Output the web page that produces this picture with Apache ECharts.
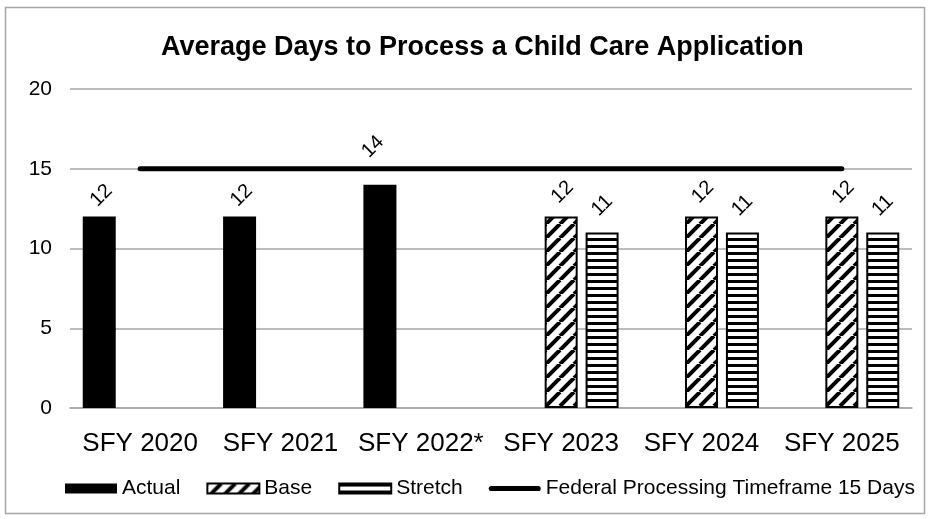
<!DOCTYPE html>
<html>
<head>
<meta charset="utf-8">
<script src="https://cdn.jsdelivr.net/npm/echarts@6/dist/echarts.min.js"></script>
<style>
  html, body { margin: 0; padding: 0; background: #fff; }
  #chart { width: 930px; height: 519px; }
</style>
</head>
<body>
<div id="chart"></div>
<script>
const categories = ['SFY 2020', 'SFY 2021', 'SFY 2022*', 'SFY 2023', 'SFY 2024', 'SFY 2025'];
const actual = [12, 12, 14, null, null, null];
const base = [null, null, null, 12, 12, 12];
const stretch = [null, null, null, 11, 11, 11];
const federal = [15, 15, 15, 15, 15, 15];
const yMin = 0, yMax = 20, yStep = 5;

const FONT = '"Liberation Sans", Arial, sans-serif';

// diagonal hatch for "Base"
function diagPattern() {
  const s = 14;
  const c = document.createElement('canvas');
  c.width = s; c.height = s;
  const g = c.getContext('2d');
  g.fillStyle = '#fff';
  g.fillRect(0, 0, s, s);
  g.strokeStyle = '#000';
  g.lineWidth = 4;
  [-s, 0, s].forEach(dx => {
    g.beginPath();
    g.moveTo(dx, s);
    g.lineTo(dx + s, 0);
    g.stroke();
  });
  return c;
}
// horizontal stripes for "Stretch"
function horizPattern() {
  const c = document.createElement('canvas');
  c.width = 8; c.height = 7;
  const g = c.getContext('2d');
  g.fillStyle = '#fff';
  g.fillRect(0, 0, 8, 7);
  g.fillStyle = '#000';
  g.fillRect(0, 0, 8, 3);
  return c;
}

const labelBase = {
  show: true,
  position: 'top',
  rotate: 45,
  align: 'center',
  verticalAlign: 'middle',
  color: '#000',
  fontSize: 20,
  fontFamily: FONT
};

// thick line with round ends for the legend
const lineIcon = 'path://M2.5,0 H47.5 A2.5,2.5 0 0 1 47.5,5 H2.5 A2.5,2.5 0 0 1 2.5,0 Z';

const chart = echarts.init(document.getElementById('chart'));
chart.setOption({
  animation: false,
  textStyle: { fontFamily: FONT },
  title: {
    text: 'Average Days to Process a Child Care Application',
    left: 156,
    top: 29,
    textStyle: { fontSize: 27, fontWeight: 'bold', color: '#000', fontFamily: FONT }
  },
  graphic: [{
    type: 'rect',
    shape: { x: 5.5, y: 7.5, width: 919, height: 506 },
    style: { fill: 'none', stroke: '#a6a6a6', lineWidth: 1.5 },
    silent: true
  }],
  legend: {
    top: 473,
    left: 60,
    icon: 'rect',
    itemWidth: 52,
    itemHeight: 10,
    itemGap: 26,
    textStyle: { fontSize: 21, color: '#000', fontFamily: FONT },
    data: [
      { name: 'Actual' },
      { name: 'Base' },
      { name: 'Stretch' },
      { name: 'Federal Processing Timeframe 15 Days', icon: lineIcon }
    ]
  },
  grid: { left: 70, right: 18, top: 89, bottom: 111 },
  xAxis: {
    type: 'category',
    data: categories,
    axisTick: { show: false },
    axisLine: { lineStyle: { color: '#a6a6a6', width: 1.5 } },
    axisLabel: { color: '#000', fontSize: 26, margin: 23, fontFamily: FONT, interval: 0 }
  },
  yAxis: {
    type: 'value',
    min: yMin,
    max: yMax,
    interval: yStep,
    axisLine: { show: false },
    axisTick: { show: false },
    splitLine: { lineStyle: { color: '#a6a6a6', width: 1.5 } },
    axisLabel: { color: '#000', fontSize: 21, margin: 18, fontFamily: FONT }
  },
  series: [
    {
      name: 'Actual',
      type: 'bar',
      barWidth: 33,
      barGap: '24%',
      itemStyle: { color: '#000' },
      label: Object.assign({}, labelBase, { distance: 19, offset: [3, 0] }),
      data: actual.map((v, i) => i === 2
        ? { value: v, label: { distance: 45, offset: [-10, 0] } }
        : v)
    },
    {
      name: 'Base',
      type: 'bar',
      barWidth: 33,
      barGap: '24%',
      itemStyle: {
        color: { image: diagPattern(), repeat: 'repeat' },
        borderColor: '#000',
        borderWidth: 2
      },
      label: Object.assign({}, labelBase, { distance: 23, offset: [2, 0] }),
      data: base
    },
    {
      name: 'Stretch',
      type: 'bar',
      barWidth: 33,
      barGap: '24%',
      itemStyle: {
        color: { image: horizPattern(), repeat: 'repeat' },
        borderColor: '#000',
        borderWidth: 2
      },
      label: Object.assign({}, labelBase, { distance: 27 }),
      data: stretch
    },
    {
      name: 'Federal Processing Timeframe 15 Days',
      type: 'line',
      symbol: 'none',
      z: 5,
      lineStyle: { color: '#000', width: 5, cap: 'round' },
      itemStyle: { color: '#000' },
      data: federal.map((v, i) => i === federal.length - 1
        ? {
            value: v,
            label: {
              show: true, position: 'top', distance: 2, offset: [34, 0],
              color: '#000', fontSize: 20, fontFamily: FONT
            }
          }
        : v)
    }
  ]
});
</script>
</body>
</html>
